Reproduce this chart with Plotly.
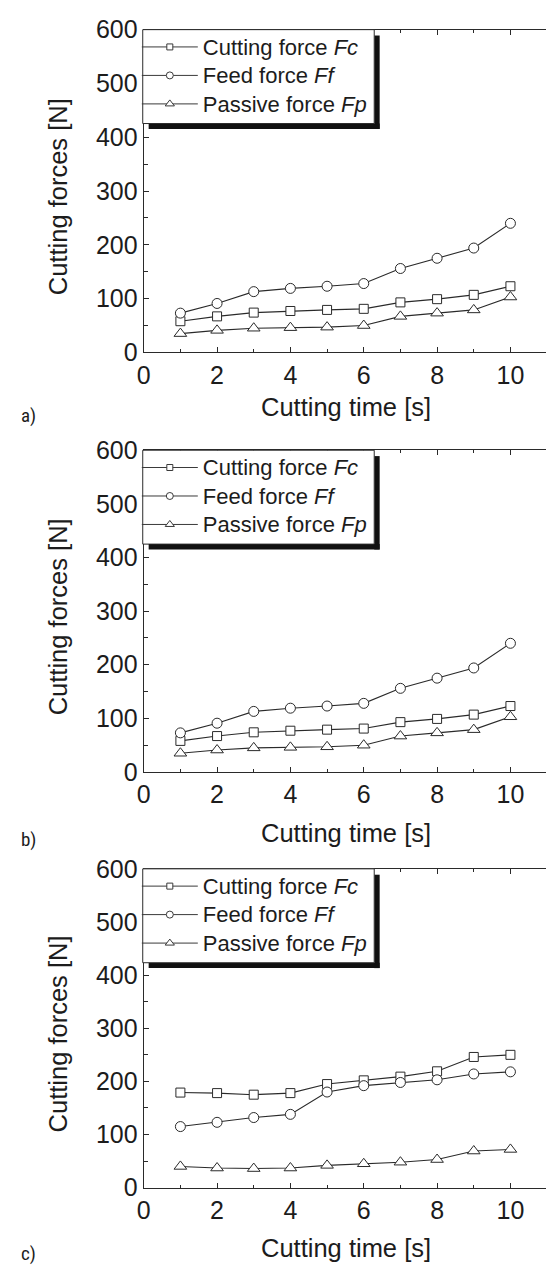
import plotly.graph_objects as go

# ---------------- data ----------------
time_s = [1, 2, 3, 4, 5, 6, 7, 8, 9, 10]

fc_a = [58, 67, 74, 77, 79, 81, 93, 99, 107, 123]
ff_a = [73, 91, 113, 119, 123, 128, 156, 175, 194, 240]
fp_a = [35, 41, 45, 46, 47, 50, 67, 73, 79, 103]

fc_b = [58, 67, 74, 77, 79, 81, 93, 99, 107, 123]
ff_b = [73, 91, 113, 119, 123, 128, 156, 175, 194, 240]
fp_b = [35, 41, 45, 46, 47, 50, 67, 73, 79, 103]

fc_c = [179, 178, 175, 178, 195, 202, 209, 219, 246, 250]
ff_c = [115, 123, 132, 138, 180, 192, 198, 203, 214, 218]
fp_c = [40, 37, 36, 37, 42, 45, 48, 53, 69, 72]

series_names = ["Cutting force <i>Fc</i>", "Feed force <i>Ff</i>", "Passive force <i>Fp</i>"]
panel_labels = ["a)", "b)", "c)"]
x_title = "Cutting time [s]"
y_title = "Cutting forces [N]"
x_ticks = [0, 2, 4, 6, 8, 10]
y_ticks = [0, 100, 200, 300, 400, 500, 600]

# ---------------- layout constants ----------------
W, H = 546, 1277
FONT = "Liberation Sans, Arial, sans-serif"
INK = "#1c1c1c"
LINE = "#2a2a2a"
X0_PX = 138.5
panel_px = [(16, 346), (446, 775), (874, 1200)]
xtitle_px = [402, 837, 1262]
plabel_px = [410, 844, 1267]

symbols = ["square", "circle", "triangle-up"]
msizes = [9, 10, 11]
leg_msizes = [6, 7, 8]
panel_data = [(fc_a, ff_a, fp_a), (fc_b, ff_b, fp_b), (fc_c, ff_c, fp_c)]

fig = go.Figure()
shapes = []
annotations = []
x_dom = [X0_PX / W, 1.0]


def py(p):
    return 1 - p / H


def px(p):
    return p / W


for i, (series, (top, bot)) in enumerate(zip(panel_data, panel_px)):
    k = "" if i == 0 else str(i + 1)
    xa, ya = "x" + k, "y" + k
    leg = "legend" + k
    for name, vals, sym, ms, lms in zip(series_names, series, symbols, msizes, leg_msizes):
        fig.add_trace(go.Scatter(
            x=time_s, y=vals, mode="lines+markers", showlegend=False,
            xaxis=xa, yaxis=ya,
            line=dict(color=LINE, width=1.1),
            marker=dict(symbol=sym, size=ms, color="white",
                        line=dict(color=LINE, width=1)),
        ))
        # legend-only entry (no data) with the smaller legend symbol
        fig.add_trace(go.Scatter(
            x=[None], y=[None], mode="lines+markers",
            name='<span style="font-size:22px">' + name + "</span>",
            xaxis=xa, yaxis=ya, legend=leg, showlegend=True,
            line=dict(color="#3a3a3a", width=1),
            marker=dict(symbol=sym, size=lms, color="white",
                        line=dict(color="#3a3a3a", width=1)),
        ))
    dom_y = [py(bot), py(top)]
    fig.layout["xaxis" + k] = dict(
        domain=x_dom, range=[0, 10.97], anchor=ya,
        tickvals=x_ticks, ticks="inside", ticklen=5, tickwidth=1, tickcolor=LINE,
        minor=dict(dtick=1, ticks="inside", ticklen=3, tickwidth=1, tickcolor=LINE),
        showline=True, linecolor=LINE, linewidth=1.2, mirror="ticks",
        showgrid=False, zeroline=False,
        tickfont=dict(family=FONT, size=25, color=INK),
    )
    fig.layout["yaxis" + k] = dict(
        domain=dom_y, range=[0, 600], anchor=xa,
        tickvals=y_ticks, ticks="inside", ticklen=5, tickwidth=1, tickcolor=LINE,
        minor=dict(dtick=50, ticks="inside", ticklen=4, tickwidth=1, tickcolor=LINE),
        showline=True, linecolor=LINE, linewidth=1.2, mirror=False,
        showgrid=False, zeroline=False,
        tickfont=dict(family=FONT, size=25, color=INK),
    )
    # right-side tick marks (no line)
    fig.layout["yaxis" + str(4 + i)] = dict(
        overlaying=ya, side="right", anchor=xa, range=[0, 600],
        tickvals=y_ticks, ticks="inside", ticklen=5, tickwidth=1, tickcolor=LINE,
        showticklabels=False, showline=False, showgrid=False, zeroline=False,
    )
    # legend: items from plotly, box + shadow drawn with shapes
    L, T, R, B = 137.5, top, 372, top + 96
    fig.layout[leg] = dict(
        x=px(131.5), y=py(top - 2), xanchor="left", yanchor="top",
        bgcolor="rgba(0,0,0,0)", borderwidth=0,
        font=dict(family=FONT, size=19.6, color=INK),
        itemwidth=56, tracegroupgap=0, itemsizing="trace",
    )
    shapes.append(dict(type="rect", xref="paper", yref="paper",
                       x0=px(R), x1=px(R + 5.5), y0=py(B + 5.5), y1=py(T + 6),
                       fillcolor="#111", line=dict(width=0), layer="above"))
    shapes.append(dict(type="rect", xref="paper", yref="paper",
                       x0=px(L + 6), x1=px(R + 5.5), y0=py(B + 5.5), y1=py(B),
                       fillcolor="#111", line=dict(width=0), layer="above"))
    shapes.append(dict(type="rect", xref="paper", yref="paper",
                       x0=px(L), x1=px(R), y0=py(B), y1=py(T),
                       fillcolor="white", line=dict(color=LINE, width=1), layer="above"))
    # axis titles and panel label
    annotations.append(dict(
        text=y_title, xref="paper", yref="paper", x=px(52), y=py((top + bot) / 2 + 6),
        textangle=-90, showarrow=False, xanchor="center", yanchor="middle",
        font=dict(family=FONT, size=25.5, color=INK)))
    annotations.append(dict(
        text=x_title, xref="paper", yref="paper", x=px((X0_PX + 548) / 2), y=py(xtitle_px[i]),
        showarrow=False, xanchor="center", yanchor="middle",
        font=dict(family=FONT, size=25.5, color=INK)))
    annotations.append(dict(
        text=panel_labels[i], xref="paper", yref="paper", x=px(22), y=py(plabel_px[i]),
        showarrow=False, xanchor="center", yanchor="middle",
        font=dict(family="Liberation Sans Narrow, Roboto Condensed, Roboto, sans-serif",
                  size=19, color=INK)))

fig.update_layout(
    width=W, height=H, margin=dict(l=0, r=0, t=0, b=0),
    paper_bgcolor="white", plot_bgcolor="white",
    shapes=shapes, annotations=annotations,
)
fig.write_html("out.html")
